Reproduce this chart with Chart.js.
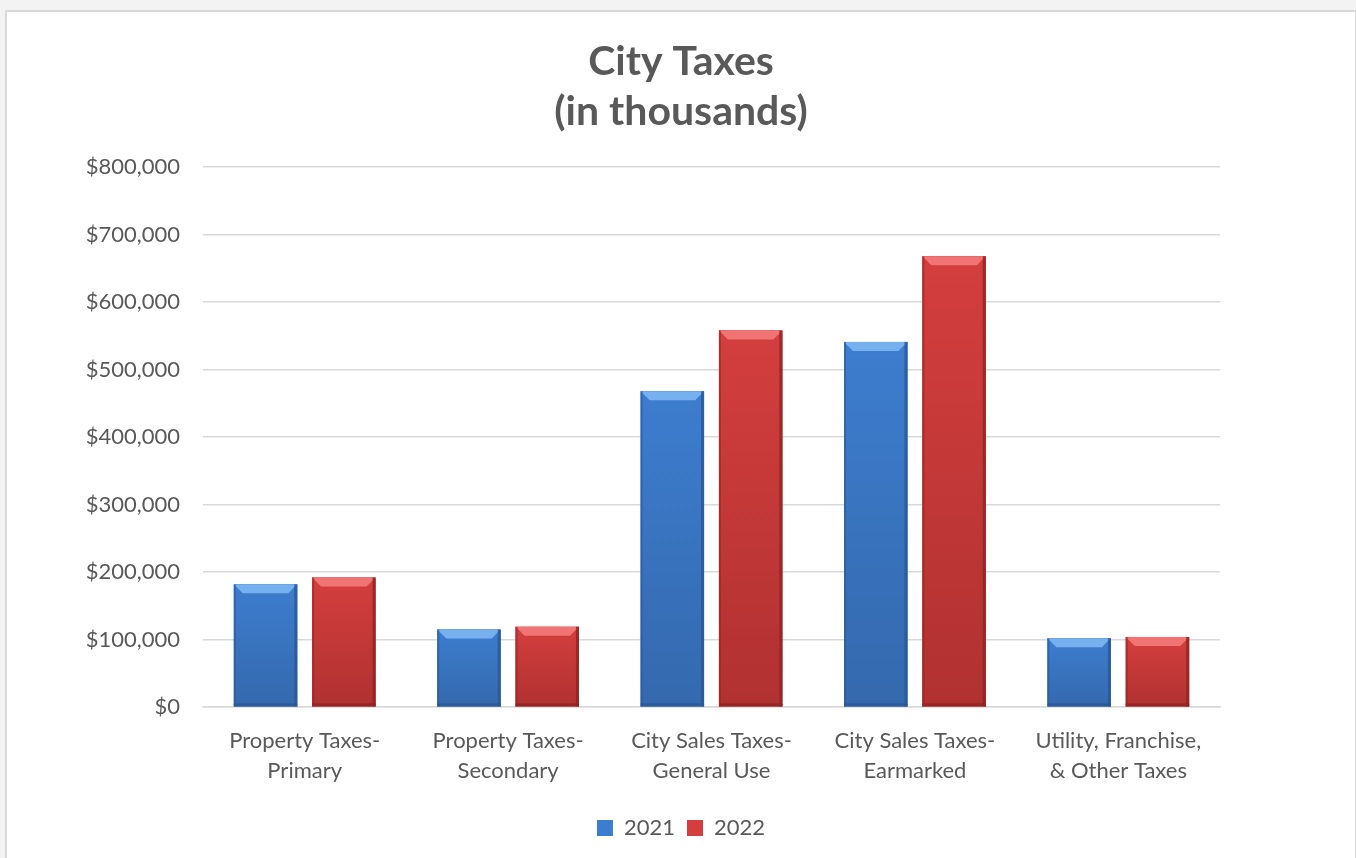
<!DOCTYPE html>
<html>
<head>
<meta charset="utf-8">
<script src="https://cdn.jsdelivr.net/npm/chart.js@4/dist/chart.umd.min.js"></script>
<style>
  html, body { margin: 0; padding: 0; background: #f3f3f3; }
  #frame {
    position: absolute; left: 5px; top: 10px;
    width: 1348px; height: 860px;
    background: #fff; border: 2px solid #d9d9d9;
  }
  #wrap { position: absolute; left: 0; top: 0; width: 1348px; height: 846px; }
</style>
</head>
<body>
<div id="frame"><div id="wrap"><canvas id="taxChart"></canvas></div></div>
<script>
const categories = [
    ['Property Taxes-', 'Primary'],
    ['Property Taxes-', 'Secondary'],
    ['City Sales Taxes-', 'General Use'],
    ['City Sales Taxes-', 'Earmarked'],
    ['Utility, Franchise,', '& Other Taxes']
];
const seriesNames = ['2021', '2022'];
const values2021 = [182000, 115000, 468000, 541000, 102000];
const values2022 = [192000, 119000, 558000, 668000, 104000];
const yMax = 800000;
const yStep = 100000;

const palette = {
    '2021': { mid: '#3d7dcf', light: '#77b0ee', dark: '#2a5894', low: '#3469ad' },
    '2022': { mid: '#d43e3e', light: '#f07474', dark: '#8f2424', low: '#b13131' }
};
const fontFamily = 'Lato, "Open Sans", sans-serif';

// draws the beveled look of the Excel bars on top of the library's bars
const bevelBars = {
    id: 'bevelBars',
    afterDatasetsDraw(chart) {
        const ctx = chart.ctx;
        chart.data.datasets.forEach((ds, i) => {
            const c = palette[ds.label];
            chart.getDatasetMeta(i).data.forEach(bar => {
                const w = bar.width, l = bar.x - w / 2, r = bar.x + w / 2;
                const t = bar.y, b = bar.base;
                const bv = Math.min(9, (b - t) / 3);
                ctx.save();
                const g = ctx.createLinearGradient(0, t, 0, b);
                g.addColorStop(0, c.mid);
                g.addColorStop(1, c.low);
                ctx.fillStyle = g;
                ctx.fillRect(l, t, w, b - t);
                // top bevel
                ctx.fillStyle = c.light;
                ctx.beginPath();
                ctx.moveTo(l, t); ctx.lineTo(r, t);
                ctx.lineTo(r - bv, t + bv); ctx.lineTo(l + bv, t + bv);
                ctx.closePath(); ctx.fill();
                // edges
                ctx.fillStyle = c.dark;
                ctx.globalAlpha = 0.55;
                ctx.fillRect(l, t, 2, b - t);
                ctx.globalAlpha = 0.8;
                ctx.fillRect(r - 3, t, 3, b - t);
                ctx.fillRect(l, b - 3, w, 3);
                ctx.restore();
            });
        });
    }
};

const ctx = document.getElementById('taxChart').getContext('2d');
const chart = new Chart(ctx, {
    type: 'bar',
    data: {
        labels: categories,
        datasets: [
            { label: seriesNames[0], data: values2021, backgroundColor: palette['2021'].mid },
            { label: seriesNames[1], data: values2022, backgroundColor: palette['2022'].mid }
        ]
    },
    plugins: [bevelBars],
    options: {
        responsive: true,
        maintainAspectRatio: false,
        animation: false,
        datasets: { bar: { categoryPercentage: 0.77, barPercentage: 0.81 } },
        layout: { padding: { left: 0, right: 0, bottom: 9 } },
        plugins: {
            title: {
                display: true,
                text: ['City Taxes', '(in thousands)'],
                color: '#595959',
                font: { family: fontFamily, size: 41, weight: 'bold', lineHeight: 1.22 },
                padding: { top: 25, bottom: 30 }
            },
            legend: {
                position: 'bottom',
                labels: {
                    color: '#595959',
                    font: { family: fontFamily, size: 22 },
                    boxWidth: 16,
                    boxHeight: 16,
                    padding: 12
                }
            },
            tooltip: { enabled: false }
        },
        scales: {
            x: {
                grid: { display: false, drawTicks: false },
                border: { display: true, color: '#d9d9d9', width: 1.5 },
                ticks: {
                    color: '#595959',
                    padding: 19,
                    maxRotation: 0,
                    font: { family: fontFamily, size: 22, lineHeight: 1.36 }
                }
            },
            y: {
                min: 0,
                max: yMax,
                afterFit(scale) { scale.width = 196; },
                grid: { color: '#d9d9d9', lineWidth: 1.5, drawTicks: false },
                border: { display: false },
                ticks: {
                    stepSize: yStep,
                    color: '#595959',
                    padding: 23,
                    font: { family: fontFamily, size: 22 },
                    callback: v => '$' + v.toLocaleString('en-US')
                }
            },
            // empty right-hand axis keeps the plot clear of the frame's right side
            yRight: {
                position: 'right',
                afterFit(scale) { scale.width = 135; },
                grid: { display: false, drawTicks: false },
                border: { display: false },
                ticks: { display: false }
            }
        }
    }
});
</script>
</body>
</html>
